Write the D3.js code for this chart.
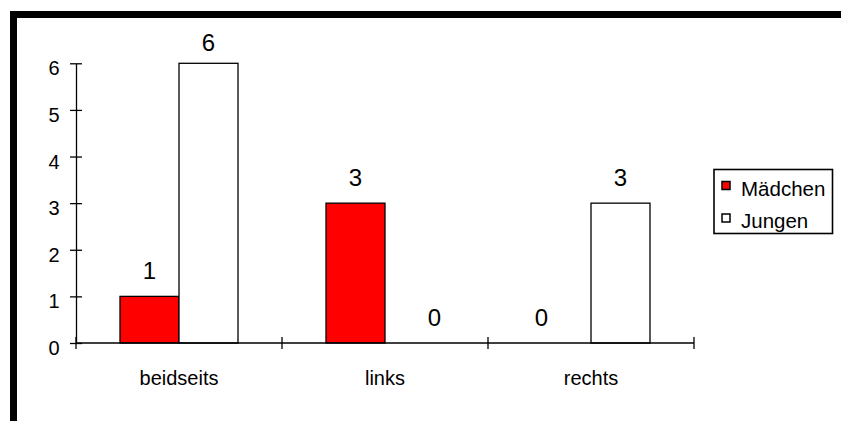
<!DOCTYPE html>
<html>
<head>
<meta charset="utf-8">
<script src="https://cdn.jsdelivr.net/npm/d3@7"></script>
<style>
  html, body { margin: 0; padding: 0; background: #fff; }
  svg { display: block; font-family: "Liberation Sans", Arial, sans-serif; }
</style>
</head>
<body>
<svg id="chart" width="841" height="421"></svg>
<script>
// Seitenverteilung nach Geschlecht
const categories = ["beidseits", "links", "rechts"];
const seriesNames = ["Mädchen", "Jungen"];
const maedchen = [1, 3, 0];
const jungen = [6, 0, 3];
const yTicks = [0, 1, 2, 3, 4, 5, 6];

const seriesValues = [maedchen, jungen];
const seriesFill = ["#ff0000", "#ffffff"];

const svg = d3.select("#chart");

// Frame along the top and left edge
svg.append("path")
  .attr("d", "M13.5,421 V14.5 H841")
  .attr("fill", "none")
  .attr("stroke", "#000")
  .attr("stroke-width", 7);

const x = d3.scaleBand().domain(categories).range([76, 694]).padding(0);
const bw = x.bandwidth();
const xs = d3.scaleBand().domain(d3.range(seriesNames.length))
  .range([bw * 0.2136, bw * 0.7864]).padding(0);
const y = d3.scaleLinear().domain([0, 6]).range([343, 63.3]);

// Bars
const g = svg.append("g");
categories.forEach((c, ci) => {
  seriesValues.forEach((vals, si) => {
    const v = vals[ci];
    if (v > 0) {
      g.append("rect")
        .attr("x", x(c) + xs(si))
        .attr("y", y(v))
        .attr("width", xs.bandwidth())
        .attr("height", y(0) - y(v))
        .attr("fill", seriesFill[si])
        .attr("stroke", "#000")
        .attr("stroke-width", 1.3);
    }
  });
});

// Value labels
categories.forEach((c, ci) => {
  seriesValues.forEach((vals, si) => {
    const v = vals[ci];
    const cx = x(c) + xs(si) + xs.bandwidth() / 2 + (v === 0 ? (si === 0 ? -20 : 20) : 0);
    svg.append("text")
      .attr("x", cx)
      .attr("y", Math.max(y(v) - 17, y(6) - 12.6))
      .attr("text-anchor", "middle")
      .attr("font-size", 24)
      .attr("fill", "#000")
      .text(v);
  });
});

// Y axis
const yAxis = svg.append("g")
  .attr("transform", "translate(76,0)")
  .call(d3.axisLeft(y).tickValues(yTicks).tickFormat(d3.format("d")).tickSize(6).tickSizeOuter(0));
yAxis.select(".domain").attr("stroke", "#000").attr("stroke-width", 1.3);
yAxis.selectAll(".tick line").attr("x1", 6).attr("stroke", "#000").attr("stroke-width", 1.3);
yAxis.selectAll(".tick text")
  .attr("x", -16.5).attr("dy", 11.5)
  .attr("font-size", 20)
  .attr("font-family", "Liberation Sans, Arial, sans-serif")
  .attr("fill", "#000");

// X axis line with ticks at category boundaries
const bounds = categories.map(c => x(c)).concat([x.range()[1]]);
svg.append("line")
  .attr("x1", x.range()[0]).attr("x2", x.range()[1])
  .attr("y1", y(0)).attr("y2", y(0))
  .attr("stroke", "#000").attr("stroke-width", 1.3);
svg.selectAll(".xtick").data(bounds).enter().append("line")
  .attr("class", "xtick")
  .attr("x1", d => d).attr("x2", d => d)
  .attr("y1", y(0) - 6).attr("y2", y(0) + 6)
  .attr("stroke", "#000").attr("stroke-width", 1.3);
svg.selectAll(".xlabel").data(categories).enter().append("text")
  .attr("class", "xlabel")
  .attr("x", d => x(d) + bw / 2)
  .attr("y", 384.5)
  .attr("text-anchor", "middle")
  .attr("font-size", 20)
  .attr("fill", "#000")
  .text(d => d);

// Legend
const lg = svg.append("g");
lg.append("rect")
  .attr("x", 714).attr("y", 169.5)
  .attr("width", 118.5).attr("height", 64)
  .attr("fill", "#fff").attr("stroke", "#000").attr("stroke-width", 1.6);
seriesNames.forEach((name, i) => {
  const yy = 181.5 + i * 32.5;
  lg.append("rect")
    .attr("x", 722).attr("y", yy)
    .attr("width", 8).attr("height", 8)
    .attr("fill", seriesFill[i]).attr("stroke", "#000").attr("stroke-width", 1.5);
  lg.append("text")
    .attr("x", 741).attr("y", yy + 14.3)
    .attr("font-size", 20.5)
    .attr("fill", "#000")
    .text(name);
});
</script>
</body>
</html>
